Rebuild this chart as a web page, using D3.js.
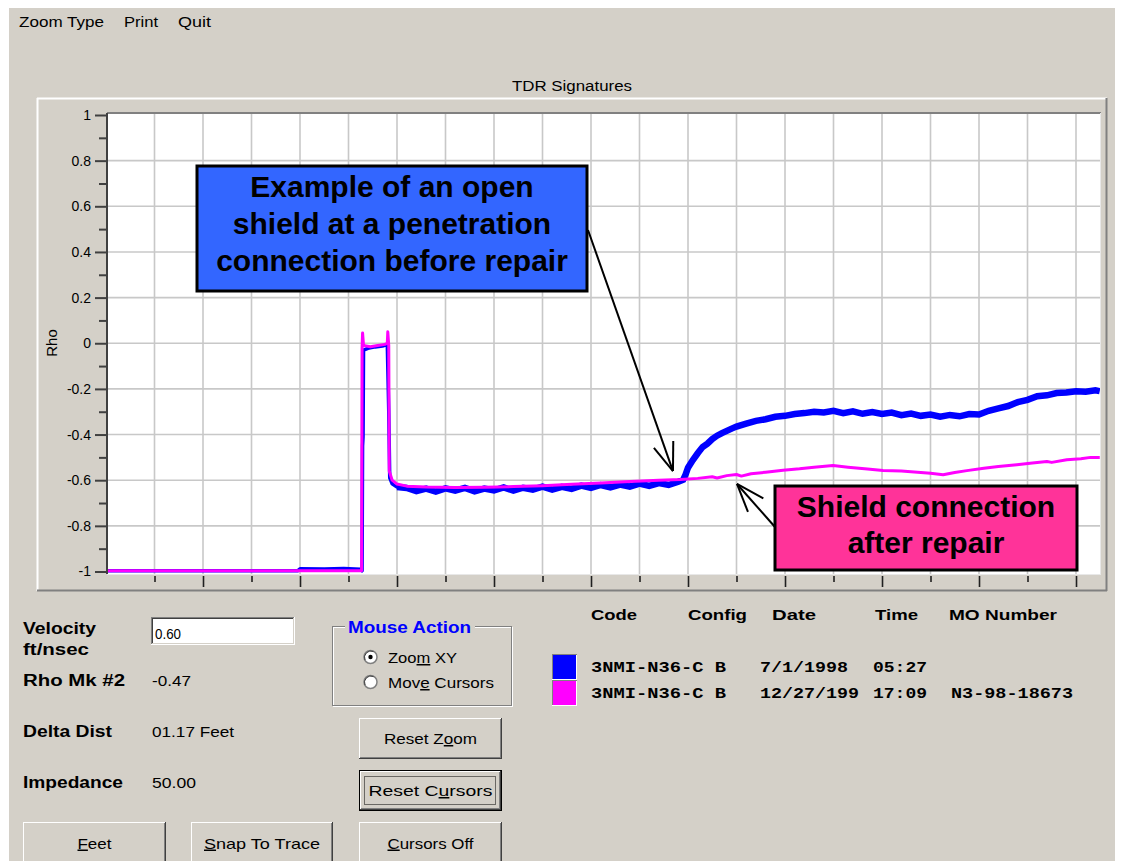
<!DOCTYPE html>
<html><head><meta charset="utf-8">
<script src="https://cdn.jsdelivr.net/npm/d3@7"></script>
<style>
html,body{margin:0;padding:0;background:#fff;}
svg{display:block;}
text{font-family:"Liberation Sans",Arial,sans-serif;fill:#000;}
</style></head><body>
<svg id="c" width="1121" height="861"></svg>
<script>
// ---------------- DATA ----------------
// x = distance in grid divisions, rho = reflection coefficient
const yTickValues = [1, 0.8, 0.6, 0.4, 0.2, 0, -0.2, -0.4, -0.6, -0.8, -1];
const yMinorTicks = [0.9, 0.7, 0.5, 0.3, 0.1, -0.1, -0.3, -0.5, -0.7, -0.9];
const xGridValues = [0,1,2,3,4,5,6,7,8,9,10,11,12,13,14,15,16,17,18,19];
const xMajorTicks = [1,3,5,7,9,11,13,15,17,19];
const xMinorTicks = [0,2,4,6,8,10,12,14,16,18];

// Trace 1 (blue, 7/1/1998) – lead-in part (flat line and pulse)
const blueLead = [[-0.96,-0.997],[2.95,-0.997],[3.0,-0.988],[3.5,-0.989],[3.9,-0.987],[4.25,-0.99],[4.28,-0.997],
  [4.29,-0.45],[4.30,-0.41],[4.31,-0.03],[4.4,-0.022],[4.55,-0.016],[4.7,-0.012],[4.8,-0.006],[4.83,-0.3],
  [4.85,-0.59],[4.9,-0.616],[5.0,-0.63],[5.2,-0.632]];
// Trace 1 (blue) – noisy tail with open-shield rise
const blueTail = [[5.0,-0.63],[5.2,-0.634],[5.4,-0.648],[5.6,-0.637],[5.8,-0.650],[6.0,-0.636],[6.2,-0.646],[6.4,-0.634],
  [6.6,-0.649],[6.8,-0.637],[7.0,-0.645],[7.2,-0.632],[7.4,-0.646],[7.6,-0.633],[7.8,-0.641],[8.0,-0.628],
  [8.2,-0.641],[8.4,-0.629],[8.6,-0.638],[8.8,-0.624],[9.0,-0.634],[9.2,-0.621],[9.4,-0.631],[9.6,-0.619],
  [9.8,-0.628],[10.0,-0.615],[10.2,-0.625],[10.4,-0.613],[10.6,-0.621],[10.8,-0.607],[10.9,-0.598],
  [10.95,-0.575],[11.0,-0.545],[11.1,-0.512],[11.2,-0.482],[11.3,-0.455],[11.4,-0.440],[11.5,-0.420],
  [11.6,-0.405],[11.7,-0.394],[11.8,-0.384],[11.9,-0.374],[12.0,-0.365],[12.2,-0.352],[12.4,-0.340],
  [12.6,-0.333],[12.8,-0.322],[13.0,-0.318],[13.2,-0.310],[13.4,-0.306],[13.6,-0.300],[13.8,-0.303],
  [14.0,-0.296],[14.2,-0.306],[14.4,-0.298],[14.6,-0.309],[14.8,-0.301],[15.0,-0.310],[15.2,-0.304],
  [15.4,-0.315],[15.6,-0.308],[15.8,-0.318],[16.0,-0.312],[16.2,-0.322],[16.4,-0.314],[16.6,-0.320],
  [16.8,-0.310],[17.0,-0.312],[17.2,-0.296],[17.4,-0.285],[17.6,-0.275],[17.8,-0.258],[18.0,-0.248],
  [18.2,-0.232],[18.4,-0.228],[18.6,-0.218],[18.8,-0.216],[19.0,-0.210],[19.2,-0.212],[19.4,-0.206],[19.49,-0.210]];
// Trace 2 (magenta, 12/27/199)
const magentaTrace = [[-0.96,-0.997],[4.27,-0.997],[4.28,-0.02],[4.29,0.045],[4.31,-0.01],[4.45,-0.015],[4.6,-0.01],
  [4.75,-0.005],[4.8,0.0],[4.81,0.05],[4.83,-0.01],[4.84,-0.56],[4.9,-0.60],[5.0,-0.617],[5.2,-0.626],
  [5.6,-0.630],[6.2,-0.632],[6.8,-0.631],[7.4,-0.628],[8.0,-0.624],[8.6,-0.618],[9.2,-0.612],[9.8,-0.606],
  [10.4,-0.600],[10.84,-0.597],[11.2,-0.592],[11.5,-0.585],[11.6,-0.590],[11.8,-0.580],[12.0,-0.575],
  [12.1,-0.582],[12.3,-0.572],[12.6,-0.565],[12.96,-0.556],[13.3,-0.550],[13.6,-0.543],[13.99,-0.536],
  [14.3,-0.543],[14.7,-0.551],[15.02,-0.557],[15.4,-0.560],[15.8,-0.566],[16.0,-0.570],[16.26,-0.576],
  [16.5,-0.566],[16.75,-0.558],[17.1,-0.548],[17.4,-0.540],[17.78,-0.532],[18.1,-0.525],[18.4,-0.518],
  [18.5,-0.522],[18.81,-0.510],[19.1,-0.506],[19.3,-0.500],[19.49,-0.500]];

const legendHeaders = ["Code","Config","Date","Time","MO Number"];
const legendRows = [
  {color:"#0000ff", code:"3NMI-N36-C", config:"B", date:"7/1/1998", time:"05:27", mo:""},
  {color:"#ff00ff", code:"3NMI-N36-C", config:"B", date:"12/27/199", time:"17:09", mo:"N3-98-18673"}
];
const menuItems = ["Zoom Type","Print","Quit"];

// ---------------- DRAW ----------------
const svg = d3.select("#c");
const BG = "#d4d0c8";
svg.append("rect").attr("x",9).attr("y",8).attr("width",1106).attr("height",853).attr("fill",BG);

function txt(x,y,s,o={}) {
  const t = svg.append("text").attr("x",x).attr("y",y)
    .style("font-size",(o.size||15)+"px").style("font-weight",o.bold?"bold":"normal")
    .attr("text-anchor",o.anchor||"start");
  if (o.family) t.style("font-family",o.family);
  if (o.fill) t.style("fill",o.fill);
  const i = s.indexOf("&");
  if (i>=0) {
    t.append("tspan").text(s.slice(0,i));
    t.append("tspan").style("text-decoration","underline").text(s[i+1]);
    t.append("tspan").text(s.slice(i+2));
  } else t.text(s);
  if (o.w) t.attr("textLength",o.w).attr("lengthAdjust","spacingAndGlyphs");
  return t;
}
function line(x1,y1,x2,y2,c,w=1){svg.append("line").attr("x1",x1).attr("y1",y1).attr("x2",x2).attr("y2",y2).attr("stroke",c).attr("stroke-width",w);}

// menu
const menuX = [19,124,178], menuW=[85,34,33];
menuItems.forEach((m,i)=>txt(menuX[i],27,m,{size:15,w:menuW[i]}));

// title
txt(572,91,"TDR Signatures",{size:14,anchor:"middle",w:120});

// panel (raised)
line(37,98.5,1107,98.5,"#fff",2); line(37.5,98,37.5,591,"#fff",2);
line(1106.5,98,1106.5,591,"#808080",2); line(37,590.5,1107,590.5,"#808080",2);

// plot area
const x = d3.scaleLinear().domain([-0.9588,19.4948]).range([108,1100]);
const y = d3.scaleLinear().domain([-1,1]).range([571.5,115]);
svg.append("rect").attr("x",108).attr("y",113).attr("width",992).attr("height",461).attr("fill","#fff");

const grid = svg.append("g").attr("stroke","#c8c8c8").attr("stroke-width",1.6);
grid.selectAll("line.v").data(xGridValues).join("line").attr("class","v")
  .attr("x1",d=>x(d)).attr("x2",d=>x(d)).attr("y1",114).attr("y2",574);
grid.selectAll("line.h").data(yTickValues.filter(d=>Math.abs(d)<1)).join("line").attr("class","h")
  .attr("y1",d=>y(d)).attr("y2",d=>y(d)).attr("x1",108).attr("x2",1100);

// frame
line(107,113,1101,113,"#808080",2);
line(1100.5,113,1100.5,575,"#e8e8e8",1);
line(107,574.5,1101,574.5,"#e8e8e8",1);

// x ticks (below plot)
const xMajor = d3.axisBottom(x).tickValues(xMajorTicks).tickSize(11).tickFormat("");
const xMinor = d3.axisBottom(x).tickValues(xMinorTicks).tickSize(6).tickFormat("");
[xMajor,xMinor].forEach(a=>{
  const g = svg.append("g").attr("transform","translate(0,576)").call(a);
  g.select(".domain").remove();
  g.selectAll(".tick line").attr("stroke","#202020").attr("stroke-width",1.6);
});

// y axis
const fmt = d=> (d===0?"0":(d===1||d===-1)? String(d) : d3.format(".1f")(d)).replace("\u2212","-");
const yMajor = d3.axisLeft(y).tickValues(yTickValues).tickSize(12).tickPadding(4).tickFormat(fmt);
const gy = svg.append("g").attr("transform","translate(107,0)").call(yMajor);
gy.select(".domain").attr("stroke","#404040").attr("stroke-width",2).attr("d","M0,113V574");
gy.selectAll(".tick line").attr("stroke","#404040").attr("stroke-width",2);
gy.selectAll(".tick text").style("font-size","14px").style("font-family","Liberation Sans, Arial, sans-serif").attr("fill","#000");
const gym = svg.append("g").attr("transform","translate(107,0)").call(d3.axisLeft(y).tickValues(yMinorTicks).tickSize(8).tickFormat(""));
gym.select(".domain").remove();
gym.selectAll(".tick line").attr("stroke","#404040").attr("stroke-width",2);

// y label
svg.append("text").attr("transform","translate(57,343) rotate(-90)").attr("text-anchor","middle")
  .style("font-size","15px").text("Rho");

// traces
const ln = d3.line().x(d=>x(d[0])).y(d=>y(d[1]));
svg.append("clipPath").attr("id","pc").append("rect").attr("x",108).attr("y",113).attr("width",992).attr("height",461);
const tg = svg.append("g").attr("clip-path","url(#pc)");
tg.append("path").datum(blueLead).attr("d",ln).attr("fill","none").attr("stroke","#0000ff").attr("stroke-width",3.5).attr("stroke-linejoin","round");
tg.append("path").datum(blueTail).attr("d",ln).attr("fill","none").attr("stroke","#0000ff").attr("stroke-width",6.5).attr("stroke-linejoin","miter");
tg.append("path").datum(magentaTrace).attr("d",ln).attr("fill","none").attr("stroke","#ff00ff").attr("stroke-width",3).attr("stroke-linejoin","round");

// callouts
function arrow(x1,y1,x2,y2){
  line(x1,y1,x2,y2,"#000",2);
  const a = Math.atan2(y1-y2,x1-x2), L=30, h=20*Math.PI/180;
  line(x2,y2,x2+L*Math.cos(a+h),y2+L*Math.sin(a+h),"#000",2);
  line(x2,y2,x2+L*Math.cos(a-h),y2+L*Math.sin(a-h),"#000",2);
}
arrow(588,230,x(10.69),y(-0.56));
svg.append("rect").attr("x",197).attr("y",166).attr("width",390).attr("height",125)
  .attr("fill","#3366ff").attr("stroke","#000").attr("stroke-width",3);
["Example of an open","shield at a penetration","connection before repair"].forEach((s,i)=>
  txt(392,197+i*36.8,s,{size:30,bold:true,anchor:"middle"}));

arrow(775,527,x(12.01),y(-0.6166));
svg.append("rect").attr("x",775).attr("y",486).attr("width",302).attr("height",84)
  .attr("fill","#ff3399").attr("stroke","#000").attr("stroke-width",3);
["Shield connection","after repair"].forEach((s,i)=>
  txt(926,517+i*36,s,{size:30,bold:true,anchor:"middle"}));

// ---------- controls ----------
txt(23,634,"Velocity",{size:16,bold:true,w:73});
txt(23,655,"ft/nsec",{size:16,bold:true,w:66});
txt(23,686,"Rho Mk #2",{size:16,bold:true,w:102});
txt(23,737,"Delta Dist",{size:16,bold:true,w:89});
txt(23,788,"Impedance",{size:16,bold:true,w:100});
txt(152,686,"-0.47",{size:15,w:39});
txt(152,737,"01.17 Feet",{size:15,w:82});
txt(152,788,"50.00",{size:15,w:44});

// input box (sunken)
svg.append("rect").attr("x",151).attr("y",617).attr("width",144).attr("height",28).attr("fill","#fff");
line(151,617.5,295,617.5,"#808080",1); line(151.5,617,151.5,645,"#808080",1);
line(152,618.5,294,618.5,"#404040",1); line(152.5,618,152.5,644,"#404040",1);
line(151,644.5,295,644.5,"#fff",1); line(294.5,617,294.5,645,"#fff",1);
line(152,643.5,294,643.5,BG,1); line(293.5,618,293.5,644,BG,1);
txt(155,639,"0.60",{size:15,w:26});

// group box
const gb = {x:333,y:627,w:179,h:79};
svg.append("rect").attr("x",gb.x+0.5).attr("y",gb.y+0.5).attr("width",gb.w).attr("height",gb.h).attr("fill","none").attr("stroke","#fff");
svg.append("rect").attr("x",gb.x-0.5).attr("y",gb.y-0.5).attr("width",gb.w).attr("height",gb.h).attr("fill","none").attr("stroke","#808080");
svg.append("rect").attr("x",345).attr("y",618).attr("width",130).attr("height",18).attr("fill",BG);
txt(348,633,"Mouse Action",{size:16,bold:true,fill:"#0000ff",w:123});
[[657,"Zoo&m XY",true,69],[682,"Mov&e Cursors",false,106]].forEach(([cy,s,sel,w])=>{
  svg.append("circle").attr("cx",370.5).attr("cy",cy).attr("r",6.5).attr("fill","#fff").attr("stroke","#808080").attr("stroke-width",1.5);
  svg.append("path").attr("d",`M${370.5-5.5},${cy+3} A6.5,6.5 0 0 1 ${370.5+3},${cy-5.5}`).attr("fill","none").attr("stroke","#404040").attr("stroke-width",1);
  if (sel) svg.append("circle").attr("cx",370.5).attr("cy",cy).attr("r",2.2).attr("fill","#000");
  txt(388,cy+6,s,{size:15,w:w});
});

// buttons
function button(bx,by,bw,bh,label,lw,focused){
  svg.append("rect").attr("x",bx).attr("y",by).attr("width",bw).attr("height",bh).attr("fill",BG);
  let ox=bx, oy=by, ow=bw, oh=bh;
  if (focused){
    svg.append("rect").attr("x",bx+0.5).attr("y",by+0.5).attr("width",bw-1).attr("height",bh-1).attr("fill","none").attr("stroke","#000");
    ox+=1; oy+=1; ow-=2; oh-=2;
  }
  line(ox,oy+0.5,ox+ow-1,oy+0.5,"#fff",1); line(ox+0.5,oy,ox+0.5,oy+oh-1,"#fff",1);
  line(ox,oy+oh-0.5,ox+ow,oy+oh-0.5,"#404040",1); line(ox+ow-0.5,oy,ox+ow-0.5,oy+oh,"#404040",1);
  line(ox+1,oy+oh-1.5,ox+ow-1,oy+oh-1.5,"#808080",1); line(ox+ow-1.5,oy+1,ox+ow-1.5,oy+oh-1,"#808080",1);
  if (focused){
    svg.append("rect").attr("x",bx+5.5).attr("y",by+6.5).attr("width",bw-12).attr("height",bh-13)
      .attr("fill","none").attr("stroke","#000").attr("stroke-dasharray","1,1");
  }
  txt(bx+bw/2,by+bh/2+5.5,label,{size:15,anchor:"middle",w:lw});
}
button(359,718,143,41,"Reset Z&oom",93,false);
button(359,770,143,41,"Reset C&ursors",124,true);
button(23,822,143,42,"&Feet",34,false);
button(191,822,142,42,"&Snap To Trace",116,false);
button(359,822,143,42,"&Cursors Off",86,false);

// legend table
const hdrX = [591,688,772,875,949], hdrW=[46,59,44,43,108];
legendHeaders.forEach((h,i)=>txt(hdrX[i],620,h,{size:15,bold:true,w:hdrW[i]}));
legendRows.forEach((r,i)=>{
  const ry = 655+i*26;
  svg.append("rect").attr("x",553).attr("y",ry).attr("width",23).attr("height",24).attr("fill",r.color);
  line(552,ry-0.5,577,ry-0.5,"#808080",1); line(552.5,ry,552.5,ry+24,"#808080",1);
  line(552,ry+24.5,577,ry+24.5,"#fff",1); line(576.5,ry,576.5,ry+24,"#fff",1);
  const by = ry+17;
  const mono = {size:14,bold:true,family:"Liberation Mono, DejaVu Sans Mono, monospace"};
  txt(591,by,r.code+" "+r.config,Object.assign({w:135},mono));
  txt(760,by,r.date,Object.assign({w:r.date.length*11},mono));
  txt(873,by,r.time,Object.assign({w:54},mono));
  if (r.mo) txt(951,by,r.mo,Object.assign({w:122},mono));
});
</script>
</body></html>
